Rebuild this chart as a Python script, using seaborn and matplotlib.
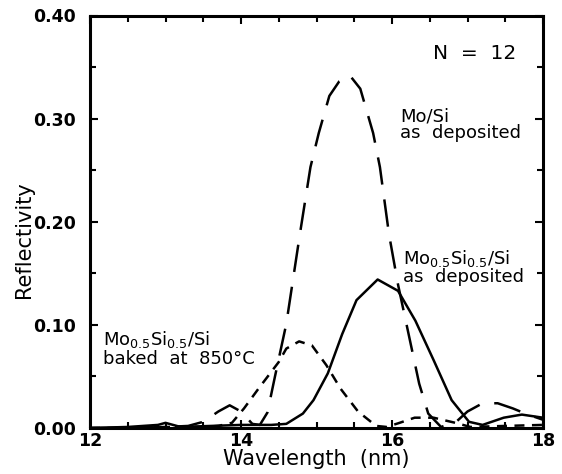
import matplotlib
matplotlib.use("Agg")
import matplotlib.pyplot as plt
import seaborn as sns
import pandas as pd
from matplotlib.ticker import MultipleLocator, FormatStrFormatter

# Mo/Si as deposited (long dashes)
mosi_x = [12.0, 12.5, 13.0, 13.3, 13.5, 13.7, 13.85, 14.0, 14.15, 14.25, 14.35, 14.45, 14.6,
          14.78, 14.92, 15.03, 15.17, 15.3, 15.44, 15.58, 15.75, 15.84, 15.96, 16.08,
          16.22, 16.36, 16.48, 16.65, 16.85, 17.0, 17.2, 17.4, 17.6, 17.8, 18.0]
mosi_y = [0.0, 0.0, 0.001, 0.002, 0.006, 0.016, 0.022, 0.016, 0.004, 0.003, 0.015, 0.05, 0.101,
          0.188, 0.253, 0.286, 0.322, 0.336, 0.342, 0.329, 0.286, 0.253, 0.188, 0.139,
          0.091, 0.043, 0.014, 0.001, 0.006, 0.016, 0.024, 0.024, 0.019, 0.013, 0.008]

# Mo0.5Si0.5/Si as deposited (solid)
mix_x = [12.0, 12.5, 12.9, 13.0, 13.2, 13.6, 14.0, 14.4, 14.6, 14.82, 14.96, 15.15, 15.34,
         15.53, 15.81, 16.08, 16.31, 16.55, 16.79, 17.02, 17.2, 17.48, 17.72, 18.0]
mix_y = [0.0, 0.001, 0.003, 0.005, 0.001, 0.002, 0.003, 0.003, 0.004, 0.014, 0.027, 0.053, 0.091,
         0.124, 0.144, 0.133, 0.104, 0.066, 0.027, 0.006, 0.003, 0.010, 0.013, 0.010]

# Mo0.5Si0.5/Si baked at 850C (short dashes)
baked_x = [12.0, 12.5, 13.0, 13.5, 13.7, 13.88, 14.04, 14.23, 14.5, 14.6, 14.77, 14.94,
           15.13, 15.32, 15.55, 15.79, 15.93, 16.1, 16.3, 16.55, 16.84, 17.04, 17.5, 18.0]
baked_y = [0.0, 0.0, 0.001, 0.001, 0.002, 0.005, 0.019, 0.038, 0.064, 0.077, 0.084, 0.080,
           0.061, 0.038, 0.016, 0.002, 0.001, 0.005, 0.010, 0.010, 0.005, 0.001, 0.002, 0.003]

x_ticks = [12, 14, 16, 18]
y_ticks = [0.0, 0.1, 0.2, 0.3, 0.4]

sns.set_style("ticks")
plt.rcParams['font.family'] = ['DejaVu Sans']
plt.rcParams.update({'text.color': 'black', 'axes.labelcolor': 'black',
                     'xtick.color': 'black', 'ytick.color': 'black',
                     'xtick.labelcolor': 'black', 'ytick.labelcolor': 'black'})

fig = plt.figure(figsize=(5.62, 4.74), dpi=100)
ax = fig.add_axes([90/562, 1 - 428/474, (543 - 90)/562, (428 - 15.5)/474])

df_mosi = pd.DataFrame({"x": mosi_x, "y": mosi_y})
df_mix = pd.DataFrame({"x": mix_x, "y": mix_y})
df_baked = pd.DataFrame({"x": baked_x, "y": baked_y})

sns.lineplot(data=df_mosi, x="x", y="y", ax=ax, color="black", lw=1.8, sort=False)
ax.lines[-1].set_dashes([11, 6])
sns.lineplot(data=df_mix, x="x", y="y", ax=ax, color="black", lw=1.8, sort=False)
sns.lineplot(data=df_baked, x="x", y="y", ax=ax, color="black", lw=1.8, sort=False)
ax.lines[-1].set_dashes([4, 3])

ax.set_xlim(12, 18)
ax.set_ylim(0, 0.4)
ax.set_xticks(x_ticks)
ax.set_yticks(y_ticks)
ax.xaxis.set_minor_locator(MultipleLocator(0.5))
ax.yaxis.set_minor_locator(MultipleLocator(0.05))
ax.yaxis.set_major_formatter(FormatStrFormatter("%.2f"))
ax.tick_params(which="both", direction="in", top=True, right=True, width=1.5,
               color="black", labelcolor="black")
ax.tick_params(which="major", length=6, labelsize=12.5)
ax.tick_params(which="minor", length=4)
ax.tick_params(axis="y", which="major", pad=10)
ax.tick_params(axis="x", which="major", pad=3)
for lab in ax.get_xticklabels() + ax.get_yticklabels():
    lab.set_fontweight("bold")
for s in ax.spines.values():
    s.set_linewidth(2.2)
    s.set_color("black")

ax.set_xlabel("Wavelength  (nm)", fontsize=15, labelpad=-1, color="black")
ax.set_ylabel("Reflectivity", fontsize=15, color="black")
ax.yaxis.set_label_coords(-0.124, 0.456)

ax.text(17.64, 0.363, "N  =  12", fontsize=14.5, va="center", ha="right", color="black")
ax.text(16.11, 0.294, "Mo/Si\nas  deposited", fontsize=13, va="center", ha="left",
        linespacing=0.95, color="black")
ax.text(16.14, 0.156, "Mo$_{0.5}$Si$_{0.5}$/Si\nas  deposited", fontsize=13, va="center",
        ha="left", linespacing=0.95, color="black")
ax.text(12.17, 0.077, "Mo$_{0.5}$Si$_{0.5}$/Si\nbaked  at  850°C", fontsize=13, va="center",
        ha="left", linespacing=0.95, color="black")

fig.savefig("out.png", dpi=100)
